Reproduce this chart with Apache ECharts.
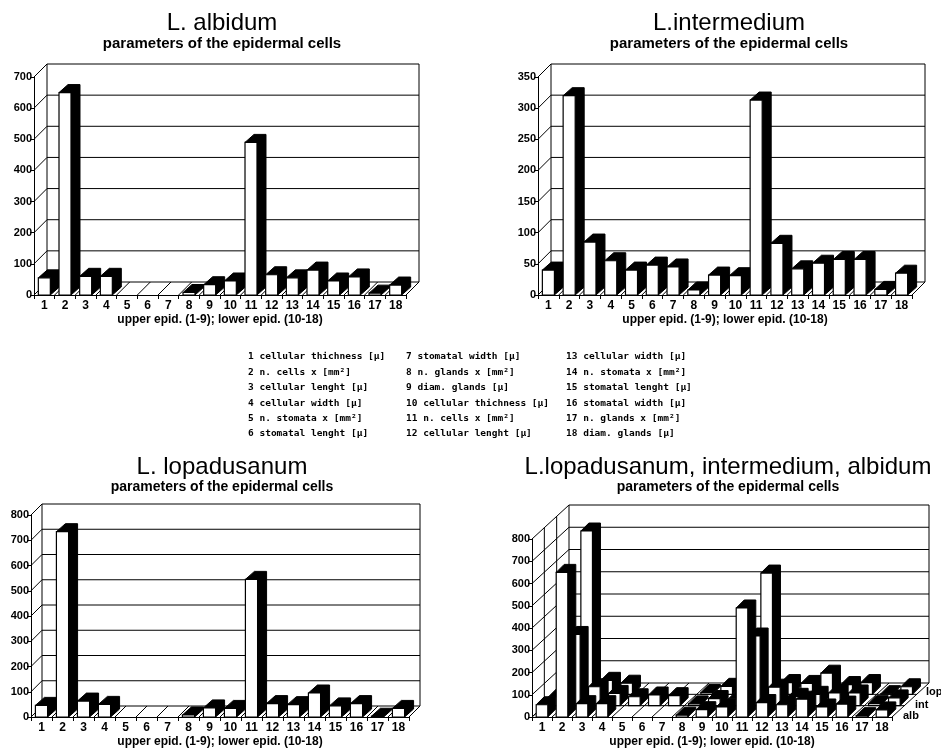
<!DOCTYPE html>
<html>
<head>
<meta charset="utf-8">
<script src="https://cdn.jsdelivr.net/npm/echarts@6/dist/echarts.min.js"></script>
<style>
html, body { margin: 0; padding: 0; background: #fff; }
#main { width: 941px; height: 749px; }
</style>
</head>
<body>
<div id="main"></div>
<script>
var cats = ['1', '2', '3', '4', '5', '6', '7', '8', '9', '10', '11', '12', '13', '14', '15', '16', '17', '18'];

var albidum     = [55, 650, 60, 60, 0, 0, 0, 8, 33, 45, 490, 65, 55, 80, 45, 58, 6, 32];
var intermedium = [40, 320, 85, 55, 40, 48, 45, 8, 32, 31, 313, 83, 42, 51, 57, 57, 9, 35];
var lopadusanum = [46, 734, 63, 50, 0, 0, 0, 8, 36, 34, 545, 53, 49, 95, 44, 53, 3, 34];

var ticksAlb = [0, 100, 200, 300, 400, 500, 600, 700];
var ticksInt = [0, 50, 100, 150, 200, 250, 300, 350];
var ticksLop = [0, 100, 200, 300, 400, 500, 600, 700, 800];
var ticksAll = [0, 100, 200, 300, 400, 500, 600, 700, 800];

var rowNames = ['alb', 'int', 'lop'];

var legendItems = [
  '1 cellular thichness [µ]', '2 n. cells x [mm²]', '3 cellular lenght [µ]',
  '4 cellular width [µ]', '5 n. stomata x [mm²]', '6 stomatal lenght [µ]',
  '7 stomatal width [µ]', '8 n. glands x [mm²]', '9 diam. glands [µ]',
  '10 cellular thichness [µ]', '11 n. cells x [mm²]', '12 cellular lenght [µ]',
  '13 cellular width [µ]', '14 n. stomata x [mm²]', '15 stomatal lenght [µ]',
  '16 stomatal width [µ]', '17 n. glands x [mm²]', '18 diam. glands [µ]'
];

var subTitle = 'parameters of the epidermal cells';
var axisName = 'upper epid. (1-9); lower epid. (10-18)';

var FONT = '"Liberation Sans", Arial, Helvetica, sans-serif';
var MONO = '"DejaVu Sans Mono", "Liberation Mono", monospace';

// one entry per panel; series listed back row first
var panels = [
  { title: 'L. albidum', cx: 217, top: 6, sub: 15,
    grid: { left: 34, top: 77, width: 372, height: 218 },
    ticks: ticksAlb, depth: [13, -13], rows: 1, bar: [9, -8], data: [albidum] },
  { title: 'L.intermedium', cx: 724, top: 6, sub: 15,
    grid: { left: 538, top: 77, width: 374, height: 218 },
    ticks: ticksInt, depth: [13, -13], rows: 1, bar: [9, -8], data: [intermedium] },
  { title: 'L. lopadusanum', cx: 217, top: 450, sub: 14,
    grid: { left: 31, top: 515, width: 378, height: 202 },
    ticks: ticksLop, depth: [11, -11], rows: 1, bar: [9, -8], data: [lopadusanum] },
  { title: 'L.lopadusanum, intermedium, albidum', cx: 723, top: 450, sub: 14,
    grid: { left: 532, top: 539, width: 360, height: 178 },
    ticks: ticksAll, depth: [37, -34], rows: 3, bar: [8, -8], data: [lopadusanum, intermedium, albidum] }
];

function line(x1, y1, x2, y2) {
  return { type: 'line', shape: { x1: x1, y1: y1, x2: x2, y2: y2 },
    style: { stroke: '#000', lineWidth: 1 } };
}

// walls, floor and back grid lines of the 3d box
function frameItem(p) {
  return function (params, api) {
    var n = cats.length;
    var bw = api.size([1, 0])[0];
    var xl = api.coord([0, 0])[0] - bw / 2;
    var xr = api.coord([n - 1, 0])[0] + bw / 2;
    var y0 = api.coord([0, 0])[1];
    var yTop = api.coord([0, p.ticks[p.ticks.length - 1]])[1];
    var dx = p.depth[0], dy = p.depth[1];
    var kids = [];
    p.ticks.forEach(function (t) {
      var y = api.coord([0, t])[1];
      kids.push(line(xl, y, xl + dx, y + dy));
      kids.push(line(xl + dx, y + dy, xr + dx, y + dy));
    });
    for (var k = 1; k <= p.rows; k++) {
      var fx = dx * k / p.rows, fy = dy * k / p.rows;
      kids.push(line(xl + fx, y0 + fy, xl + fx, yTop + fy));
      if (k < p.rows) kids.push(line(xl + fx, y0 + fy, xr + fx, y0 + fy));
    }
    kids.push(line(xr + dx, y0 + dy, xr + dx, yTop + dy));
    for (var b = 0; b <= n; b++) {
      kids.push(line(xl + b * bw, y0, xl + b * bw + dx, y0 + dy));
    }
    return { type: 'group', children: kids };
  };
}

function barItem(p, row) {
  return function (params, api) {
    var v = api.value(1);
    if (!v) return;
    var bw = api.size([1, 0])[0];
    var w = bw * 0.58;
    var base = api.coord([api.value(0), 0]);
    var top = api.coord([api.value(0), v]);
    var ox = p.depth[0] * row / p.rows, oy = p.depth[1] * row / p.rows;
    var x1 = base[0] - w / 2 + ox, x2 = x1 + w;
    var yb = base[1] + oy, yt = top[1] + oy;
    var bx = p.bar[0], by = p.bar[1];
    return { type: 'group', children: [
      { type: 'polygon',
        shape: { points: [[x1, yt], [x1 + bx, yt + by], [x2 + bx, yt + by], [x2 + bx, yb + by], [x2, yb], [x2, yt]] },
        style: { fill: '#000', stroke: '#000', lineWidth: 1 } },
      { type: 'rect', shape: { x: x1, y: yt, width: w, height: yb - yt },
        style: { fill: '#fff', stroke: '#000', lineWidth: 1.2 } }
    ] };
  };
}

var option = {
  backgroundColor: '#fff',
  animation: false,
  title: [], grid: [], xAxis: [], yAxis: [], series: [], graphic: []
};

panels.forEach(function (p, i) {
  option.title.push({
    text: p.title, subtext: subTitle, left: p.cx, top: p.top, textAlign: 'center', itemGap: 1,
    textStyle: { fontFamily: FONT, fontSize: 24, fontWeight: 'normal', color: '#000' },
    subtextStyle: { fontFamily: FONT, fontSize: p.sub, fontWeight: 'bold', color: '#000' }
  });
  option.grid.push({ left: p.grid.left, top: p.grid.top, width: p.grid.width, height: p.grid.height,
    containLabel: false, outerBoundsMode: 'none' });
  option.xAxis.push({
    gridIndex: i, type: 'category', data: cats,
    axisLine: { show: true, lineStyle: { color: '#000', width: 1 } },
    axisTick: { show: true, length: 4, lineStyle: { color: '#000' } },
    axisLabel: { interval: 0, margin: 5, color: '#000', fontFamily: FONT, fontSize: 12, fontWeight: 'bold' },
    splitLine: { show: false },
    name: axisName, nameLocation: 'middle', nameGap: 19,
    nameTextStyle: { color: '#000', fontFamily: FONT, fontSize: 12, fontWeight: 'bold' }
  });
  option.yAxis.push({
    gridIndex: i, type: 'value', min: 0, max: p.ticks[p.ticks.length - 1], interval: p.ticks[1] - p.ticks[0],
    axisLine: { show: true, lineStyle: { color: '#000', width: 1 } },
    axisTick: { show: true, length: 4, lineStyle: { color: '#000' } },
    axisLabel: { margin: 2, color: '#000', fontFamily: FONT, fontSize: 11, fontWeight: 'bold' },
    splitLine: { show: false }
  });
  option.series.push({
    type: 'custom', xAxisIndex: i, yAxisIndex: i, silent: true, z: 1,
    data: [[0, 0]], encode: { x: 0, y: 1 }, renderItem: frameItem(p)
  });
  p.data.forEach(function (vals, s) {
    var row = p.rows - 1 - s;
    option.series.push({
      type: 'custom', xAxisIndex: i, yAxisIndex: i, silent: true, z: 2,
      data: vals.map(function (v, k) { return [k, v]; }),
      encode: { x: 0, y: 1 }, renderItem: barItem(p, row)
    });
  });
});

// row names for the combined panel
[[903, 716], [915, 705], [926, 692]].forEach(function (pos, r) {
  option.graphic.push({ type: 'text', left: pos[0], top: pos[1] - 6,
    style: { text: rowNames[r], font: 'bold 11px ' + FONT, fill: '#000' } });
});

// parameter list in the middle
var colX = [248, 406, 566];
legendItems.forEach(function (t, k) {
  var c = Math.floor(k / 6), r = k % 6;
  option.graphic.push({ type: 'text', left: colX[c], top: 352 + r * 15.4,
    style: { text: t, font: 'bold 9.5px ' + MONO, fill: '#000' } });
});

var chart = echarts.init(document.getElementById('main'), null, { renderer: 'canvas' });
chart.setOption(option);
</script>
</body>
</html>
